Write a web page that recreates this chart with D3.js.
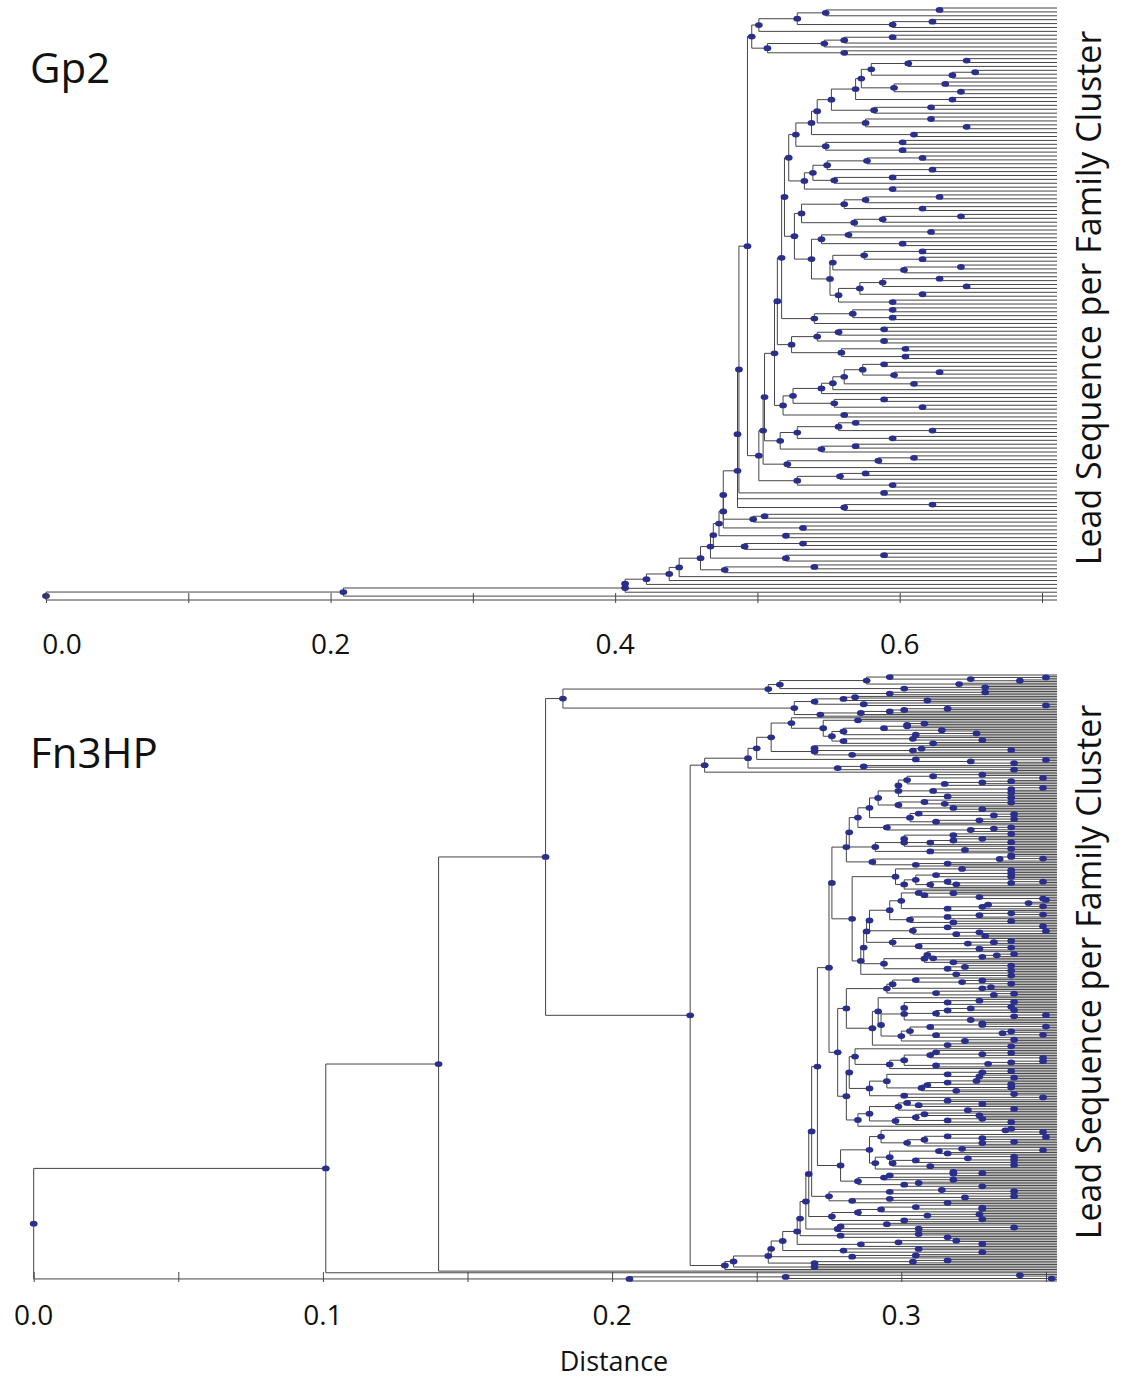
<!DOCTYPE html>
<html>
<head>
<meta charset="utf-8">
<title>Gp2 / Fn3HP dendrograms</title>
<script src="https://cdn.jsdelivr.net/npm/d3@7"></script>
<style>
  body { margin: 0; background: #fff; }
  svg { display: block; font-family: "Open Sans", sans-serif; }
  .link { fill: none; stroke: #454545; stroke-width: 1px; }
  .node { fill: #2b2f8c; }
  .tick line { stroke: #444; stroke-width: 1px; }
</style>
</head>
<body>
<div id="chart"></div>
<script>
// merge distance between each pair of neighbouring leaves, read top to bottom
var gp2Heights = [
  .628, .548, .528, .623, .595, .501, .496, .595, .561, .547, .507, .561,
  .493,
  .647, .606, .580, .653, .637, .573, .632, .596, .643, .569, .637, .552, .622, .582, .542, .622, .576, .647, .538, .610, .527, .602, .548, .602,
  .522,
  .616, .577, .549, .623, .539, .595, .554, .533, .595,
  .519,
  .628, .576, .561, .616, .531, .643, .588, .568, .526, .622, .564, .545, .602, .538, .616, .575, .616, .553, .643, .603, .551, .628, .588, .647, .572, .616, .557, .595,
  .517,
  .595, .567, .595, .540,
  .514,
  .589, .557, .542, .589, .524, .604, .559, .604,
  .512,
  .589, .574, .628, .596, .561, .610, .553, .545, .525, .589, .554, .616, .518, .561,
  .505,
  .569, .557, .623, .528, .595, .516, .569, .545,
  .504,
  .610, .585, .521,
  .501,
  .576, .558, .528, .595,
  .487, .589, .486, .486, .623, .561, .476, .505, .497, .476, .532, .473, .520, .469, .532, .491, .467, .589, .520, .460, .540, .477,
  .445, .438, .422, .407, .407, .209, 0
];

var fn3Heights = [
  .296, .350, .324, .341, .288, .320, .258, .329, .301, .254, .329, .296,
  .183,
  .284, .280, .309, .270, .287, .350, .263, .316, .301, .296, .286, .272,
  .177,
  .262, .285, .273, .308, .302, .302, .294, .314, .280, .326, .305, .276, .304, .328, .280, .311, .255, .270, .307, .338, .304, .270, .283, .250, .305, .350, .324, .339, .247, .287, .278, .339, .232,
  .227,
  .328, .311, .349, .302, .338, .328, .315, .299, .349, .338, .311, .338, .299, .316, .338, .292, .308, .338, .315, .299, .318, .328, .289, .306, .339, .332, .303, .339, .327, .312, .285, .295, .338, .332, .324, .282, .338, .318, .301, .328, .318, .338, .310, .301, .291, .338, .322, .310,
  .281,
  .338, .338, .349, .334, .290, .316, .305,
  .276,
  .321, .338, .298, .338, .312, .338, .305, .316, .349, .338, .319, .310, .301, .283, .306, .318, .308, .327, .349, .350, .300, .344, .330, .349, .328, .316, .296, .338, .349, .327, .316, .303, .338, .318, .289, .349, .316, .304, .350, .327, .319, .329, .288, .297, .338, .332, .323, .306, .338, .327, .287, .309, .339, .333, .328, .311, .308, .318, .294, .338, .322, .316, .338, .286, .319, .338,
  .275,
  .305, .328, .321, .338, .297, .331, .328, .295, .312, .339, .332, .281, .292, .327, .339, .316, .301, .338, .324, .339, .316, .312, .350, .339, .301, .324, .293, .328, .328, .350, .310, .303, .338, .335, .349, .312, .300, .339, .322, .290, .316, .338, .278, .284, .312, .338, .328, .310, .349, .301, .349, .338, .330, .312, .296, .282, .338, .328, .316, .327, .339, .295, .326, .316, .338, .309, .338, .307, .319, .289, .339, .301, .349, .281, .316, .302, .328, .306, .299, .339, .323, .289, .308, .327, .305, .328, .316, .338, .298, .285,
  .271,
  .338, .336, .349, .293, .316, .350, .328, .308, .339, .328, .302, .289, .321, .349, .313, .316, .296, .339, .323, .339, .305, .297, .339, .310, .291, .279, .318, .328, .318, .296, .294, .318, .285, .306, .301, .328,
  .269,
  .314, .339, .296, .275, .339, .322, .296, .283, .316,
  .268,
  .305, .328, .328, .293, .285, .327, .309, .276, .328, .301,
  .267,
  .295, .279, .339, .306, .278,
  .265,
  .306, .279, .316,
  .264,
  .319, .299, .328, .286,
  .259,
  .306, .280, .328,
  .255,
  .305, .283,
  .254,
  .316, .304, .270,
  .242,
  .270,
  .239,
  .140, .101, 0,
  .341, .260, .352, .206
];

var gp2Ticks = [0, 0.1, 0.2, 0.3, 0.4, 0.5, 0.6, 0.7];
var gp2Labels = [0, 0.2, 0.4, 0.6];
var fn3Ticks = [0, 0.05, 0.1, 0.15, 0.2, 0.25, 0.3, 0.35];
var fn3Labels = [0, 0.1, 0.2, 0.3];
var panelTitles = ["Gp2", "Fn3HP"];
var sideLabel = "Lead Sequence per Family Cluster";
var axisTitle = "Distance";

var W = 1123, H = 1381;
var svg = d3.select("#chart").append("svg").attr("width", W).attr("height", H);

var panels = [
  { heights: gp2Heights, ticks: gp2Ticks, labels: gp2Labels, title: panelTitles[0],
    dom: [0, 0.7], rng: [46, 1042], xEnd: 1057, yTop: 8, yBot: 600,
    tickY: 603, labelY: 654, firstShift: 16, titleY: 83, sideY: 298 },
  { heights: fn3Heights, ticks: fn3Ticks, labels: fn3Labels, title: panelTitles[1],
    dom: [0, 0.35], rng: [33.7, 1045.9], xEnd: 1057, yTop: 675, yBot: 1281,
    tickY: 1282, labelY: 1325, firstShift: 0, titleY: 768, sideY: 972 }
];

// ordered dendrogram: the smallest merge distance in a run of leaves splits it
function buildTree(h, lo, hi) {
  if (lo === hi) return { leaf: lo };
  var m = lo;
  for (var i = lo; i < hi; i++) if (h[i] <= h[m]) m = i;
  return { dist: h[m], children: [buildTree(h, lo, m), buildTree(h, m + 1, hi)] };
}

panels.forEach(function(p) {
  var x = d3.scaleLinear().domain(p.dom).range(p.rng);
  var y = d3.scaleLinear().domain([0, p.heights.length]).range([p.yTop, p.yBot]);

  var root = d3.hierarchy(buildTree(p.heights, 0, p.heights.length));
  root.eachAfter(function(n) {
    if (n.children) {
      n.px = x(n.data.dist);
      n.py = (n.children[0].py + n.children[1].py) / 2;
    } else {
      n.px = p.xEnd;
      n.py = y(n.data.leaf);
    }
  });

  var g = svg.append("g");
  g.selectAll(".link")
    .data(root.links())
    .join("path")
    .attr("class", "link")
    .attr("d", function(l) {
      return "M" + l.source.px + "," + l.source.py + "V" + l.target.py + "H" + l.target.px;
    });

  g.selectAll(".node")
    .data(root.descendants().filter(function(n) { return n.children; }))
    .join("ellipse")
    .attr("class", "node")
    .attr("cx", function(n) { return n.px; })
    .attr("cy", function(n) { return n.py; })
    .attr("rx", 3.9)
    .attr("ry", 2.9);

  // tick marks stand up from the bottom line
  var ax = svg.append("g")
    .attr("transform", "translate(0," + p.tickY + ")")
    .call(d3.axisBottom(x).tickValues(p.ticks).tickSize(-10).tickFormat(""));
  ax.select(".domain").remove();

  svg.append("g").selectAll("text")
    .data(p.labels)
    .join("text")
    .attr("x", function(d, i) { return x(d) + (i === 0 ? p.firstShift : 0); })
    .attr("y", p.labelY)
    .attr("text-anchor", "middle")
    .attr("font-size", 28)
    .attr("fill", "#111")
    .text(d3.format(".1f"));

  svg.append("text")
    .attr("x", 30)
    .attr("y", p.titleY)
    .attr("font-size", 42)
    .attr("fill", "#111")
    .text(p.title);

  svg.append("text")
    .attr("transform", "translate(1101," + p.sideY + ") rotate(-90)")
    .attr("text-anchor", "middle")
    .attr("font-size", 34)
    .attr("fill", "#111")
    .text(sideLabel);
});

svg.append("text")
  .attr("x", 614)
  .attr("y", 1371)
  .attr("text-anchor", "middle")
  .attr("font-size", 27)
  .attr("fill", "#111")
  .text(axisTitle);
</script>
</body>
</html>
